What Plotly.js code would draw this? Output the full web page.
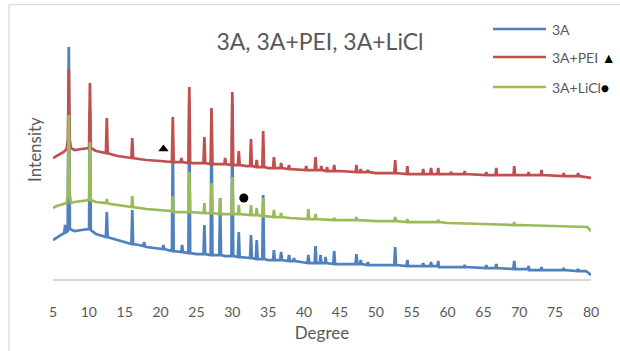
<!DOCTYPE html>
<html><head><meta charset="utf-8">
<script src="https://cdn.plot.ly/plotly-3.0.1.min.js"></script>
<style>html,body{margin:0;padding:0;background:#fff}#chart{width:620px;height:351px}</style>
</head><body><div id="chart"></div>
<script>
// ---- data (2θ in degrees, intensity in arbitrary units) ----
const seriesNames = ['3A', '3A+PEI', '3A+LiCl'];
const legendMarks = ['', ' \u25B2', '\u25CF'];
const seriesColors = ['#4F81BD', '#C0504D', '#9BBB59'];
const xTicks = [5,10,15,20,25,30,35,40,45,50,55,60,65,70,75,80];

const pts3A = [
[5,39],[6,43],[6.55,46],[6.7,54],[6.85,47],[7.05,48],[7.2,232],[7.35,50],[8,48],[9,49],[10.03,50],[10.15,169],[10.27,49],[11,45],[12,43],[12.38,42],[12.5,67],[12.62,42],[13,41],[14,39],[15,37],[15.93,35],[16.05,69],[16.17,35],[17,34],[17.6,33],[17.7,37],[17.8,33],[18,32],[19,31],[20,30],[20.3,30],[20.4,34],[20.5,30],[21,29],[21.58,28],[21.7,139],[21.82,28],[22.9,27],[23.0,34],[23.1,27],[23.88,26],[24.0,179],[24.12,26],[25,25],[25.98,25],[26.1,54],[26.22,25],[26.98,24],[27.1,169],[27.22,24],[28.18,24],[28.3,81],[28.42,24],[29,23],[29.88,23],[30.0,174],[30.12,23],[30.78,22],[30.9,47],[31.02,22],[32,21],[32.48,21],[32.6,44],[32.72,21],[33.28,20],[33.4,39],[33.52,20],[34.18,20],[34.3,84],[34.42,20],[35,19],[35.68,19],[35.8,29],[35.92,19],[36.68,19],[36.8,27],[36.92,19],[37.78,18],[37.9,24],[38.02,18],[38.5,18],[38.6,21],[38.7,18],[39.5,17],[40.48,16],[40.6,24],[40.72,16],[41.48,16],[41.6,33],[41.72,16],[42.2,16],[42.3,24],[42.4,16],[42.9,16],[43.0,22],[43.1,16],[44.08,15],[44.2,28],[44.32,15],[45,15],[47.18,15],[47.3,25],[47.42,15],[47.8,15],[47.9,19],[48.0,15],[48.8,14],[48.9,17],[49.0,14],[50,14],[52.58,14],[52.7,32],[52.82,14],[54.28,13],[54.4,19],[54.52,13],[56.5,13],[56.6,16],[56.7,13],[57.6,13],[57.7,17],[57.8,13],[58.6,13],[58.7,18],[58.8,12],[60,12],[62.3,12],[62.4,14],[62.5,12],[65.3,11],[65.4,14],[65.5,11],[66.7,11],[66.8,15],[66.9,11],[69.18,10],[69.3,18],[69.42,10],[71.2,10],[71.3,13],[71.4,9],[73.0,9],[73.1,12],[73.2,9],[75,9],[76.1,9],[76.2,11],[76.3,9],[78.1,8],[78.2,10],[78.3,8],[79.3,8],[80,4]
];

const pts3APEI = [
[5,121],[5.5,123],[6.5,127],[6.9,130],[7.08,140],[7.2,210],[7.32,140],[7.5,131],[8,129],[9,130],[10.03,131],[10.15,196],[10.27,131],[11,128],[12,127],[12.38,126],[12.5,161],[12.62,126],[13,125],[14,123],[15,122],[15.93,121],[16.05,141],[16.17,121],[17,120],[18,119],[20,118],[21.58,117],[21.7,162],[21.82,117],[22.8,117],[22.9,121],[23.0,117],[23.88,116],[24.0,192],[24.12,116],[25,116],[25.98,116],[26.1,142],[26.22,116],[26.98,115],[27.1,171],[27.22,115],[28,115],[28.9,115],[29.0,121],[29.1,115],[29.88,114],[30.0,187],[30.12,114],[30.78,114],[30.9,128],[31.02,114],[32,113],[32.48,113],[32.6,140],[32.72,113],[33.28,112],[33.4,119],[33.52,112],[34.18,112],[34.3,148],[34.42,112],[35,111],[35.68,111],[35.8,122],[35.92,111],[36.7,111],[36.8,116],[36.9,111],[37.8,110],[37.9,114],[38.0,110],[40.2,109],[40.3,113],[40.4,109],[41.48,109],[41.6,122],[41.72,109],[42.3,109],[42.4,113],[42.5,109],[43.1,108],[43.2,112],[43.3,108],[44.1,108],[44.2,114],[44.3,108],[45,108],[47.2,107],[47.3,114],[47.4,107],[47.8,107],[47.9,110],[48.0,107],[48.8,107],[48.9,109],[49.0,107],[50,106],[52.58,106],[52.7,119],[52.82,106],[54.3,105],[54.4,113],[54.5,105],[55,105],[56.5,105],[56.6,110],[56.7,105],[57.6,105],[57.7,111],[57.8,105],[58.6,105],[58.7,111],[58.8,105],[60,105],[60.4,105],[60.5,107],[60.6,105],[62.3,105],[62.4,108],[62.5,105],[65,104],[65.3,104],[65.4,107],[65.5,104],[66.7,104],[66.8,111],[66.9,104],[69.2,104],[69.3,113],[69.4,104],[70,104],[71.2,104],[71.3,107],[71.4,104],[73.0,104],[73.1,109],[73.2,104],[75,103],[76.1,103],[76.2,106],[76.3,103],[78.1,103],[78.2,106],[78.3,103],[80,101]
];

const pts3ALiCl = [
[5,71],[5.5,73],[6,74],[6.9,76],[7.08,85],[7.2,164],[7.32,85],[7.5,76],[8,77],[9,78],[10.03,79],[10.15,137],[10.27,79],[11,77],[12,76],[12.4,76],[12.5,80],[12.6,76],[13,75],[14,74],[15,73],[15.95,72],[16.05,83],[16.15,72],[18,70],[20,69],[21.6,68],[21.7,83],[21.8,67],[22,67],[23.88,67],[24.0,107],[24.12,67],[26.0,66],[26.1,76],[26.2,66],[26.98,66],[27.1,96],[27.22,66],[28.2,65],[28.3,81],[28.4,65],[29.88,65],[30.0,102],[30.12,65],[30.8,65],[30.9,74],[31.0,65],[32.5,64],[32.6,74],[32.7,64],[33.3,64],[33.4,71],[33.5,64],[34.18,63],[34.3,81],[34.42,63],[35.7,62],[35.8,69],[35.9,62],[36.7,62],[36.8,66],[36.9,62],[38,61],[40.5,60],[40.6,70],[40.7,60],[41.5,60],[41.6,65],[41.7,60],[44.1,59],[44.2,61],[44.3,59],[47.2,59],[47.3,62],[47.4,59],[50,58],[52.6,58],[52.7,62],[52.8,58],[54.3,57],[54.4,60],[54.5,57],[58.6,57],[58.7,59],[58.8,57],[60,56],[65,55],[69.2,54],[69.3,57],[69.4,54],[70,54],[75,53],[79.5,52],[80,48]
];

// peak markers (▲ for PEI, ● for LiCl)
const markDeg = [20.4, 31.6];
const markInt = [130, 81];
const markSymbol = ['triangle-up', 'circle'];

// ---- layout geometry ----
const W = 620, H = 351, L = 53, R = 29, T = 20, B = 72;
const pw = W - L - R, ph = H - T - B;
const fx = px => (px - L) / pw;
const fy = py => (H - B - py) / ph;
const txt = '#595959';
const FONT = 'Lato, "Open Sans", sans-serif';

const allPts = [pts3A, pts3APEI, pts3ALiCl];
const traces = allPts.map((pts, i) => ({
  type: 'scatter', mode: 'lines', name: seriesNames[i],
  x: pts.map(p => p[0]), y: pts.map(p => p[1]),
  line: {color: seriesColors[i], width: 2.75},
  showlegend: false, hoverinfo: 'skip'
}));
traces.push({
  type: 'scatter', mode: 'markers', x: markDeg, y: markInt,
  marker: {color: '#000', size: 9, symbol: markSymbol},
  showlegend: false, hoverinfo: 'skip'
});

// manual legend (long line samples like the original)
const legRows = [29, 57, 87];
const shapes = [];
const annotations = [];
seriesNames.forEach((n, i) => {
  shapes.push({type: 'line', xref: 'paper', yref: 'paper',
    x0: fx(493), x1: fx(546), y0: fy(legRows[i]), y1: fy(legRows[i]),
    line: {color: seriesColors[i], width: 2.5}});
  annotations.push({xref: 'paper', yref: 'paper', x: fx(550), y: fy(legRows[i]),
    xanchor: 'left', yanchor: 'middle', showarrow: false,
    text: n + '<span style="color:#000">' + legendMarks[i] + '</span>',
    font: {family: FONT, size: 14, color: txt}});
});
// chart-area border (top and left edges visible)
shapes.push({type: 'line', xref: 'paper', yref: 'paper', x0: fx(9), x1: fx(625), y0: fy(4.5), y1: fy(4.5), line: {color: '#d9d9d9', width: 1.25}});
shapes.push({type: 'line', xref: 'paper', yref: 'paper', x0: fx(9), x1: fx(9), y0: fy(4.5), y1: fy(360), line: {color: '#d9d9d9', width: 1.25}});

const layout = {
  width: W, height: H,
  margin: {l: L, r: R, t: T, b: B, pad: 0},
  paper_bgcolor: '#fff', plot_bgcolor: '#fff',
  font: {family: FONT, color: txt},
  title: {text: '3A, 3A+PEI, 3A+LiCl', font: {family: FONT, size: 23, color: txt},
    xref: 'container', yref: 'container', x: 320 / W, y: 1 - 42 / H, xanchor: 'center', yanchor: 'middle'},
  xaxis: {range: [5, 80], tickvals: xTicks, ticktext: xTicks.map(String),
    ticks: 'outside', ticklen: 20, tickcolor: 'rgba(0,0,0,0)',
    showline: true, linecolor: '#d9d9d9', linewidth: 1.5,
    showgrid: false, zeroline: false,
    tickfont: {family: FONT, size: 14, color: txt},
    title: {text: 'Degree', font: {family: FONT, size: 17, color: txt}, standoff: 8}},
  yaxis: {range: [0, ph], showticklabels: false, showgrid: false, zeroline: false, showline: false, ticks: '',
    title: {text: 'Intensity', font: {family: FONT, size: 17, color: txt}, standoff: 6}},
  shapes: shapes, annotations: annotations, showlegend: false
};
Plotly.newPlot('chart', traces, layout, {displayModeBar: false, staticPlot: true});
</script>
</body></html>
